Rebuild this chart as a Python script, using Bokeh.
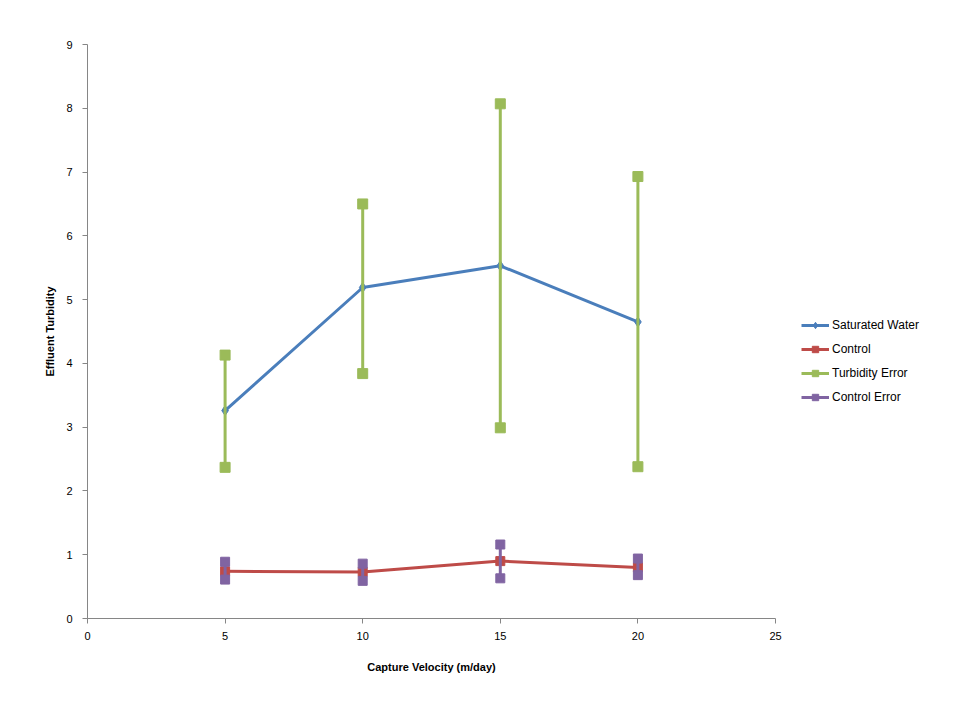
from bokeh.plotting import figure
from bokeh.models import Range1d, Legend, LegendItem, FixedTicker
from bokeh.embed import file_html
from bokeh.resources import INLINE

# Data
velocity = [5, 10, 15, 20]
saturated_water = [3.26, 5.19, 5.53, 4.65]
control = [0.74, 0.73, 0.90, 0.80]
turbidity_err_high = [4.13, 6.50, 8.07, 6.93]
turbidity_err_low = [2.37, 3.84, 2.99, 2.38]
control_err_high = [0.89, 0.86, 1.16, 0.94]
control_err_low = [0.61, 0.59, 0.63, 0.68]
x_ticks = [0, 5, 10, 15, 20, 25]
y_ticks = [0, 1, 2, 3, 4, 5, 6, 7, 8, 9]

BLUE = "#4A7EBB"
RED = "#BE4B48"
GREEN = "#9BBB59"
PURPLE = "#8064A2"
AXIS = "#868686"
FONT = "Liberation Sans"

p = figure(frame_width=688, frame_height=574, output_backend="svg", toolbar_location=None,
           x_range=Range1d(0, 25), y_range=Range1d(0, 9),
           min_border_left=87, min_border_top=44, min_border_bottom=86,
           min_border_right=0)
p.outline_line_color = None
p.xgrid.visible = False
p.ygrid.visible = False
p.background_fill_color = "white"
p.border_fill_color = "white"

# Saturated Water
l1 = p.line(velocity, saturated_water, line_color=BLUE, line_width=3)
s1 = p.scatter(velocity, saturated_water, marker="diamond", size=10,
               fill_color=BLUE, line_color=BLUE)
# Control
l2 = p.line(velocity, control, line_color=RED, line_width=3)
s2 = p.scatter(velocity, control, marker="square", size=9,
               fill_color=RED, line_color=RED)
# Turbidity Error
l3 = p.segment(x0=velocity, y0=turbidity_err_low, x1=velocity, y1=turbidity_err_high,
               line_color=GREEN, line_width=3)
s3a = p.scatter(velocity, turbidity_err_high, marker="square", size=10,
                fill_color=GREEN, line_color=GREEN)
s3b = p.scatter(velocity, turbidity_err_low, marker="square", size=10,
                fill_color=GREEN, line_color=GREEN)
# Control Error
l4 = p.segment(x0=velocity, y0=control_err_low, x1=velocity, y1=control_err_high,
               line_color=PURPLE, line_width=3)
s4a = p.scatter(velocity, control_err_high, marker="square", size=9,
                fill_color=PURPLE, line_color=PURPLE)
s4b = p.scatter(velocity, control_err_low, marker="square", size=9,
                fill_color=PURPLE, line_color=PURPLE)

for ax in (p.xaxis[0], p.yaxis[0]):
    ax.axis_line_color = AXIS
    ax.axis_line_width = 1
    ax.major_tick_line_color = AXIS
    ax.major_tick_out = 5
    ax.major_tick_in = 0
    ax.minor_tick_line_color = None
    ax.major_label_text_font = FONT
    ax.major_label_text_font_size = "11px"
    ax.major_label_text_color = "black"
    ax.axis_label_text_font = FONT
    ax.axis_label_text_font_size = "11px"
    ax.axis_label_text_font_style = "bold"
    ax.axis_label_text_color = "black"

p.xaxis.ticker = FixedTicker(ticks=x_ticks)
p.yaxis.ticker = FixedTicker(ticks=y_ticks)
p.xaxis.axis_label = "Capture Velocity (m/day)"
p.yaxis.axis_label = "Effluent Turbidity"
p.xaxis.major_label_standoff = 8
p.xaxis.axis_label_standoff = 18
p.yaxis.major_label_standoff = 10
p.yaxis.axis_label_standoff = 7

legend = Legend(items=[
    LegendItem(label="Saturated Water", renderers=[l1, s1]),
    LegendItem(label="Control", renderers=[l2, s2]),
    LegendItem(label="Turbidity Error", renderers=[l3, s3a]),
    LegendItem(label="Control Error", renderers=[l4, s4a]),
])
legend.location = (26, 213)
legend.margin = 25
legend.padding = 0
legend.spacing = 8
legend.glyph_width = 28
legend.glyph_height = 16
legend.label_height = 16
legend.label_standoff = 3
legend.label_text_font = FONT
legend.label_text_font_size = "12px"
legend.label_text_color = "black"
legend.background_fill_alpha = 0
legend.border_line_color = None
p.add_layout(legend, "right")

open("out.html", "w").write(file_html(p, INLINE))
